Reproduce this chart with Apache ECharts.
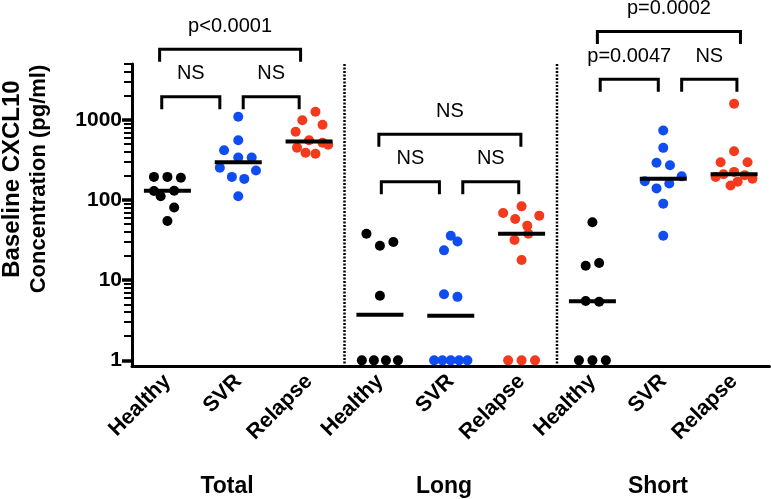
<!DOCTYPE html>
<html><head><meta charset="utf-8">
<script src="https://cdn.jsdelivr.net/npm/echarts@6/dist/echarts.min.js"></script>
<style>html,body{margin:0;padding:0;background:#fff}#c{width:771px;height:499px}</style>
</head><body><div id="c"></div>
<script>
// ---------- data ----------
const categories = ['Healthy','SVR','Relapse','Healthy','SVR','Relapse','Healthy','SVR','Relapse'];
const groupNames = ['Total','Long','Short'];
const yTickValues = [1, 10, 100, 1000];
const yMin = 0.85, yMax = 5000;

const totalHealthy = [195, 195, 190, 130, 112, 131, 81, 55];
const totalSVR     = [1096, 559, 419, 340, 340, 253, 234, 195, 184, 112];
const totalRelapse = [1266, 994, 871, 712, 560, 520, 490, 452, 390, 380];
const longHealthy  = [38, 27, 30, 6.4, 1, 1, 1, 1];
const longSVR      = [36, 30.5, 23.6, 6.7, 6.2, 1, 1, 1, 1, 1];
const longRelapse  = [83.6, 69, 64, 58, 48, 38, 31.8, 17.9, 1, 1, 1];
const shortHealthy = [52.8, 15.2, 16.4, 5.5, 5.4, 1, 1, 1];
const shortSVR     = [741, 449, 292, 272, 198, 172, 161, 140, 90.4, 36];
const shortRelapse = [1594, 407, 297, 297, 225, 210, 205, 195, 185, 170, 152];

// horizontal spread of the dots inside each category (fraction of a category band)
const totalHealthyJitter = [-0.19, 0, 0.19, -0.19, -0.095, 0.095, 0.095, 0];
const totalSVRJitter     = [0, 0, -0.2, 0, 0.19, -0.26, 0.25, -0.09, 0.085, 0];
const totalRelapseJitter = [0.09, -0.095, 0.19, -0.19, 0, 0.19, 0.27, -0.17, -0.05, 0.09];
const longHealthyJitter  = [-0.19, 0, 0.19, 0, -0.255, -0.085, 0.085, 0.255];
const longSVRJitter      = [0, 0.095, -0.095, -0.095, 0.095, -0.235, -0.118, 0, 0.118, 0.235];
const longRelapseJitter  = [0, -0.26, 0.25, -0.09, 0.08, 0.095, -0.1, 0, -0.19, 0, 0.19];
const shortHealthyJitter = [0, -0.095, 0.095, -0.095, 0.095, -0.19, 0, 0.19];
const shortSVRJitter     = [0, 0, -0.095, 0.095, 0.26, -0.26, 0.085, -0.095, 0, 0];
const shortRelapseJitter = [0, 0, -0.19, 0.19, 0, -0.15, 0.15, -0.26, 0.26, 0.05, -0.05];

// significance brackets: [from, to] on the category scale, level in pg/ml, label
const bracketFrom  = [-0.08, 1.07, -0.11, 3.02, 4.17, 2.985, 6.11, 7.26, 6.07];
const bracketTo    = [0.74, 1.86, 1.88, 3.84, 4.96, 4.99, 6.93, 8.04, 8.09];
const bracketLevel = [1950, 1950, 7640, 170, 170, 664, 3230, 3230, 12700];
const bracketText  = ['NS', 'NS', 'p<0.0001', 'NS', 'NS', 'NS', 'p=0.0047', 'NS', 'p=0.0002'];
const separators = [2.5, 5.5];

// ---------- build ----------
const L = Math.log10;
const groups = [
  [totalHealthy, totalHealthyJitter, 0], [totalSVR, totalSVRJitter, 1], [totalRelapse, totalRelapseJitter, 2],
  [longHealthy, longHealthyJitter, 0], [longSVR, longSVRJitter, 1], [longRelapse, longRelapseJitter, 2],
  [shortHealthy, shortHealthyJitter, 0], [shortSVR, shortSVRJitter, 1], [shortRelapse, shortRelapseJitter, 2]
];
const colors = ['#000000', '#0f4cf2', '#f43a1c'];
const dotData = [[], [], []];
const medianData = [];
function median(a) {
  const s = a.slice().sort((p, q) => p - q), n = s.length;
  return n % 2 ? s[(n - 1) / 2] : (s[n / 2 - 1] + s[n / 2]) / 2;
}
groups.forEach((g, i) => {
  g[0].forEach((v, k) => dotData[g[2]].push([i + g[1][k], L(v)]));
  medianData.push([i, L(median(g[0]))]);
});
const minorTicks = [];
for (let d = 0; d < 4; d++) for (let m = 2; m <= 9; m++) { const v = m * Math.pow(10, d); if (v <= yMax) minorTicks.push(L(v)); }

const FONT = '"Liberation Sans", Arial, Helvetica, sans-serif';
const chart = echarts.init(document.getElementById('c'), null, {renderer: 'canvas'});
const yAxisBase = {
  type: 'value', min: L(yMin), max: L(yMax), position: 'left', splitLine: {show: false}
};
chart.setOption({
  animation: false,
  backgroundColor: '#fff',
  grid: {left: 132, right: 1.5, top: 64, bottom: 133, containLabel: false},
  xAxis: [{
    type: 'category', data: categories, boundaryGap: true,
    axisLine: {onZero: false, lineStyle: {color: '#000', width: 3}},
    axisTick: {alignWithLabel: true, length: 9, lineStyle: {color: '#000', width: 3.5}},
    axisLabel: {interval: 0, rotate: 45, margin: 12, color: '#000', fontSize: 21.5, fontWeight: 'bold', fontFamily: FONT}
  }, {
    type: 'value', min: -0.5, max: 8.5, show: false, axisLine: {onZero: false}
  }],
  yAxis: [Object.assign({}, yAxisBase, {
    axisLine: {show: true, onZero: false, lineStyle: {color: '#000', width: 3}},
    axisTick: {show: true, customValues: yTickValues.map(L), length: 10, lineStyle: {color: '#000', width: 3.5}},
    axisLabel: {show: true, customValues: yTickValues.map(L), margin: 10, color: '#000', fontSize: 21, fontWeight: 'bold', fontFamily: FONT,
      formatter: v => String(Math.round(Math.pow(10, v)))}
  }), Object.assign({}, yAxisBase, {
    axisLine: {show: false, onZero: false},
    axisTick: {show: true, customValues: minorTicks, length: 8, lineStyle: {color: '#000', width: 2}},
    axisLabel: {show: false}
  })],
  series: [
    {
      type: 'custom', xAxisIndex: 1, yAxisIndex: 0, clip: false, silent: true, z: 1,
      data: separators.map(x => [x]),
      encode: {x: 0},
      renderItem: (params, api) => {
        const x = api.value(0);
        const p1 = api.coord([x, L(yMax)]), p2 = api.coord([x, L(yMin)]);
        return {type: 'line', shape: {x1: p1[0], y1: p1[1], x2: p2[0], y2: p2[1]},
          style: {stroke: '#000', lineWidth: 2.5, lineDash: [2, 1.5]}};
      }
    },
    ...dotData.map((d, c) => ({
      type: 'scatter', xAxisIndex: 1, yAxisIndex: 0, data: d, symbol: 'circle', symbolSize: 10,
      itemStyle: {color: colors[c], opacity: 1}, z: 3, silent: true
    })),
    {
      type: 'scatter', xAxisIndex: 1, yAxisIndex: 0, data: medianData, symbol: 'rect', symbolSize: [47, 4],
      itemStyle: {color: '#000', opacity: 1}, z: 4, silent: true
    },
    {
      type: 'custom', xAxisIndex: 1, yAxisIndex: 0, clip: false, silent: true, z: 5,
      data: bracketFrom.map((f, i) => [f, bracketTo[i], L(bracketLevel[i])]),
      encode: {x: [0, 1], y: 2},
      renderItem: (params, api) => {
        const lv = api.value(2);
        const p1 = api.coord([api.value(0), lv]), p2 = api.coord([api.value(1), lv]);
        const leg = 12.5;
        return {type: 'group', children: [
          {type: 'polyline', shape: {points: [[p1[0], p1[1] + leg], [p1[0], p1[1]], [p2[0], p2[1]], [p2[0], p2[1] + leg]]},
            style: {stroke: '#000', lineWidth: 3, fill: null, lineJoin: 'miter'}},
          {type: 'text', style: {text: bracketText[params.dataIndex], x: (p1[0] + p2[0]) / 2, y: p1[1] - 23,
            align: 'center', verticalAlign: 'middle', fontSize: 20, fontFamily: FONT, fill: '#000'}}
        ]};
      }
    }
  ],
  graphic: [
    {type: 'text', x: 12, y: 179, rotation: Math.PI / 2,
      style: {text: 'Baseline CXCL10', align: 'center', verticalAlign: 'middle', fontSize: 24, fontWeight: 'bold', fontFamily: FONT, fill: '#000'}},
    {type: 'text', x: 39, y: 179, rotation: Math.PI / 2,
      style: {text: 'Concentration (pg/ml)', align: 'center', verticalAlign: 'middle', fontSize: 22, fontWeight: 'bold', fontFamily: FONT, fill: '#000'}},
    ...groupNames.map((t, i) => ({type: 'text', x: [227, 444, 658][i], y: 487,
      style: {text: t, align: 'center', verticalAlign: 'middle', fontSize: 23, fontWeight: 'bold', fontFamily: FONT, fill: '#000'}}))
  ]
});
</script></body></html>
